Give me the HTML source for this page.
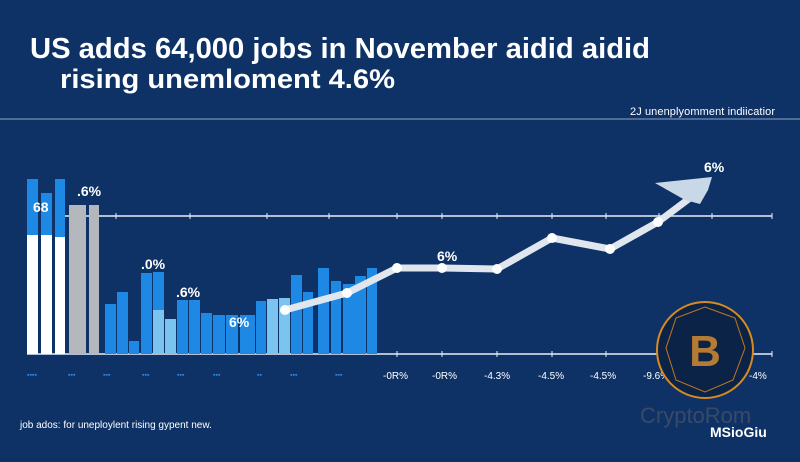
<!DOCTYPE html><html><head><style>
body{margin:0;width:800px;height:457px;overflow:hidden;background:#0d3165;font-family:"Liberation Sans",sans-serif}
</style></head><body>
<svg width="800" height="457" xmlns="http://www.w3.org/2000/svg">
<rect width="800" height="457" fill="#0e3266"/>
<text x="30" y="58" fill="#fff" font-size="29" font-weight="bold" textLength="620" lengthAdjust="spacingAndGlyphs">US adds 64,000 jobs in November aidid aidid</text>
<text x="60" y="88" fill="#fff" font-size="27" font-weight="bold" textLength="335" lengthAdjust="spacingAndGlyphs">rising unemloment   4.6%</text>
<line x1="0" y1="119" x2="800" y2="119" stroke="#8ea6c8" stroke-width="1"/>
<text x="630" y="115" fill="#fff" font-size="11" textLength="145">2J unenplyomment indiicatior</text>
<line x1="65" y1="216" x2="772" y2="216" stroke="#e8eef6" stroke-width="1.5"/>
<line x1="27" y1="354" x2="772" y2="354" stroke="#e8eef6" stroke-width="1.5"/>
<g stroke="#e8eef6" stroke-width="1"><path d="M116 213v6M190 213v6M267 213v6M329 213v6M397 213v6M442 213v6M497 213v6M552 213v6M606 213v6M659 213v6M712 213v6M772 213v6M397 351v6M442 351v6M497 351v6M552 351v6M606 351v6M659 351v6M712 351v6M772 351v6"/></g>
<g fill="#1e88e5">
<rect x="27" y="179" width="11" height="56"/><rect x="41" y="193" width="11" height="42"/><rect x="55" y="179" width="10" height="58"/>
<rect x="105" y="304" width="11" height="50"/><rect x="117" y="292" width="11" height="62"/><rect x="129" y="341" width="10" height="13"/><rect x="141" y="273" width="11" height="81"/><rect x="153" y="272" width="11" height="38"/>
<rect x="177" y="300" width="11" height="54"/><rect x="189" y="300" width="11" height="54"/><rect x="201" y="313" width="11" height="41"/><rect x="213" y="315" width="12" height="39"/><rect x="226" y="315" width="12" height="39"/><rect x="240" y="315" width="15" height="39"/><rect x="256" y="301" width="10" height="53"/>
<rect x="291" y="275" width="11" height="79"/><rect x="303" y="292" width="10" height="62"/><rect x="318" y="268" width="11" height="86"/><rect x="331" y="281" width="10" height="73"/><rect x="343" y="284" width="12" height="70"/><rect x="355" y="276" width="11" height="78"/><rect x="367" y="268" width="10" height="86"/></g>
<g fill="#7cc4f0"><rect x="153" y="310" width="11" height="44"/><rect x="165" y="319" width="11" height="35"/><rect x="267" y="299" width="11" height="55"/><rect x="279" y="298" width="11" height="56"/></g>
<g fill="#fff"><rect x="27" y="235" width="11" height="119"/><rect x="41" y="235" width="11" height="119"/><rect x="55" y="237" width="10" height="117"/></g>
<g fill="#b4b8bd"><rect x="69" y="205" width="17" height="149"/><rect x="89" y="205" width="10" height="149"/></g>
<polyline points="285,310 347,293 397,268 442,268 497,269 552,238 610,249 658,222 690,198" fill="none" stroke="#dfe6ee" stroke-width="7" stroke-linejoin="round"/>
<g fill="#fff"><circle cx="285" cy="310" r="5"/><circle cx="347" cy="293" r="5"/><circle cx="397" cy="268" r="5"/><circle cx="442" cy="268" r="5"/><circle cx="497" cy="269" r="5"/><circle cx="552" cy="238" r="5"/><circle cx="610" cy="249" r="5"/><circle cx="658" cy="222" r="5"/></g>
<polygon points="655,183 712,177 708,190 700,204 685,200" fill="#c8d8e6"/>
<g fill="#fff" font-weight="bold" font-size="14"><text x="33" y="212">68</text><text x="77" y="196">.6%</text><text x="141" y="269">.0%</text><text x="176" y="297">.6%</text><text x="229" y="327">6%</text><text x="437" y="261">6%</text><text x="704" y="172">6%</text></g>
<g fill="#fff" font-size="10"><text x="383" y="379">-0R%</text><text x="432" y="379">-0R%</text><text x="484" y="379">-4.3%</text><text x="538" y="379">-4.5%</text><text x="590" y="379">-4.5%</text><text x="643" y="379">-9.6%</text><text x="697" y="379">-4.5%</text><text x="749" y="379">-4%</text></g>
<g fill="#2a8ae0" font-size="7"><text x="27" y="377">▪▪▪▪</text><text x="68" y="377">▪▪▪</text><text x="103" y="377">▪▪▪</text><text x="142" y="377">▪▪▪</text><text x="177" y="377">▪▪▪</text><text x="213" y="377">▪▪▪</text><text x="257" y="377">▪▪</text><text x="290" y="377">▪▪▪</text><text x="335" y="377">▪▪▪</text></g>
<circle cx="705" cy="350" r="48" fill="#0c2348" stroke="#d88a20" stroke-width="2"/>
<polygon points="705,307 735,318 745,348 733,380 705,392 676,380 666,348 676,318" fill="none" stroke="#c07820" stroke-width="1"/>
<text x="705" y="366" text-anchor="middle" fill="#e09030" font-size="44" font-weight="bold" opacity="0.8">B</text>
<text x="640" y="423" fill="#3a4a66" font-size="22">CryptoRom</text>
<text x="710" y="437" fill="#fff" font-size="14" font-weight="bold">MSioGiu</text>
<text x="20" y="428" fill="#fff" font-size="10">job ados: for uneploylent rising gypent new.</text>
</svg></body></html>
